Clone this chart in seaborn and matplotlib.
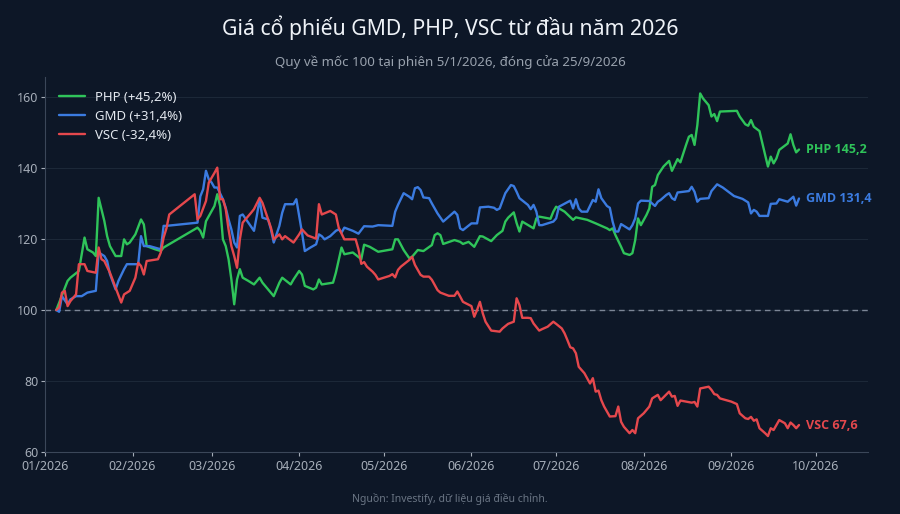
import numpy as np
import pandas as pd
import matplotlib
matplotlib.use("Agg")
import matplotlib.pyplot as plt
import matplotlib.dates as mdates
import seaborn as sns

# dd/mm (2026) va gia tri quy ve 100
php_dates = ["05/01", "09/01", "10/01", "13/01", "15/01", "16/01", "18/01", "19/01", "20/01", "22/01",
             "23/01", "24/01", "26/01", "28/01", "29/01", "30/01", "31/01", "02/02", "04/02", "05/02",
             "06/02", "09/02", "11/02", "12/02", "24/02", "25/02", "26/02", "27/02", "02/03", "03/03",
             "04/03", "05/03", "06/03", "07/03", "08/03", "09/03", "10/03", "11/03", "12/03", "14/03",
             "16/03", "18/03", "19/03", "23/03", "25/03", "26/03", "29/03", "30/03", "01/04", "02/04",
             "03/04", "06/04", "07/04", "08/04", "09/04", "13/04", "14/04", "16/04", "17/04", "20/04",
             "23/04", "24/04", "26/04", "29/04", "04/05", "05/05", "06/05", "08/05", "10/05", "11/05",
             "13/05", "15/05", "18/05", "19/05", "20/05", "21/05", "22/05", "26/05", "28/05", "29/05",
             "31/05", "02/06", "04/06", "05/06", "08/06", "10/06", "12/06", "13/06", "14/06", "16/06",
             "17/06", "18/06", "19/06", "22/06", "23/06", "24/06", "25/06", "29/06", "30/06", "01/07",
             "04/07", "07/07", "08/07", "12/07", "15/07", "19/07", "20/07", "21/07", "22/07", "24/07",
             "25/07", "27/07", "28/07", "29/07", "30/07", "31/07", "02/08", "03/08", "04/08", "05/08",
             "06/08", "07/08", "08/08", "10/08", "11/08", "13/08", "14/08", "15/08", "16/08", "17/08",
             "18/08", "19/08", "20/08", "21/08", "22/08", "24/08", "25/08", "26/08", "27/08", "28/08",
             "03/09", "04/09", "06/09", "07/09", "08/09", "09/09", "11/09", "12/09", "13/09", "14/09",
             "15/09", "16/09", "17/09", "18/09", "20/09", "21/09", "22/09", "23/09", "24/09", "25/09"]
php_vals = [100, 108.2, 109.1, 111, 120.4, 117.1, 116.2, 115.2, 131.6, 125.1,
            120.8, 118, 115.2, 115.2, 119.9, 118.5, 119, 121.3, 125.5, 124.1,
            118, 117.1, 116.6, 117.6, 123.2, 122.3, 120.4, 125, 129.3, 132.6,
            129.3, 119.9, 118, 114.3, 108.6, 101.6, 108.6, 111.5, 109.1, 108.2,
            107.2, 109.1, 107.7, 103.9, 107.7, 109.1, 107.2, 108.6, 111, 110,
            106.8, 105.8, 106.3, 108.6, 107.2, 107.7, 110.5, 117.6, 115.7, 116.2,
            114.3, 118.4, 117.8, 116.4, 117.1, 119.9, 119.9, 116.9, 114.6, 115,
            116.9, 116.6, 118.3, 121.1, 121.6, 121.1, 118.6, 119.7, 119.2, 118.6,
            119.2, 117.8, 120.8, 120.7, 119.4, 121.1, 122.3, 124.9, 126, 127.5,
            124.5, 122.1, 124.9, 123.5, 123, 125.8, 126.3, 125.7, 127.7, 129.1,
            127.7, 125.4, 126.1, 125.4, 124.4, 123, 122.5, 123, 121.1, 117.8,
            116, 115.5, 116, 119.7, 125.8, 123.9, 126.8, 128.6, 134.7, 135.2,
            138, 139.2, 140.4, 142, 139.2, 142.5, 141.6, 144.1, 146.5, 148.8,
            149.3, 146.5, 152.1, 161, 159.6, 157.7, 154.5, 155.2, 153.2, 155.9,
            156.1, 154.5, 152.3, 151.9, 153.5, 151.6, 150.4, 147, 143.7, 140.4,
            143.2, 141.3, 142.7, 145.1, 146.3, 146.9, 149.5, 146.5, 144.4, 145.2]

gmd_dates = ["05/01", "06/01", "07/01", "09/01", "10/01", "12/01", "14/01", "16/01", "19/01", "20/01",
             "22/01", "23/01", "24/01", "26/01", "27/01", "29/01", "30/01", "03/02", "04/02", "05/02",
             "07/02", "11/02", "12/02", "13/02", "24/02", "25/02", "26/02", "27/02", "28/02", "01/03",
             "02/03", "03/03", "05/03", "06/03", "07/03", "08/03", "09/03", "10/03", "11/03", "12/03",
             "14/03", "16/03", "17/03", "18/03", "19/03", "21/03", "22/03", "23/03", "25/03", "26/03",
             "27/03", "30/03", "31/03", "01/04", "02/04", "03/04", "05/04", "07/04", "08/04", "09/04",
             "10/04", "12/04", "14/04", "15/04", "16/04", "17/04", "20/04", "22/04", "24/04", "27/04",
             "29/04", "04/05", "05/05", "06/05", "08/05", "10/05", "11/05", "12/05", "13/05", "14/05",
             "15/05", "17/05", "18/05", "20/05", "22/05", "24/05", "26/05", "27/05", "28/05", "29/05",
             "01/06", "03/06", "04/06", "07/06", "09/06", "10/06", "11/06", "13/06", "15/06", "16/06",
             "17/06", "18/06", "21/06", "22/06", "23/06", "24/06", "25/06", "26/06", "30/06", "01/07",
             "02/07", "06/07", "07/07", "08/07", "09/07", "10/07", "12/07", "14/07", "15/07", "16/07",
             "17/07", "19/07", "20/07", "21/07", "22/07", "23/07", "24/07", "27/07", "28/07", "29/07",
             "30/07", "31/07", "03/08", "05/08", "06/08", "07/08", "09/08", "10/08", "11/08", "12/08",
             "13/08", "17/08", "18/08", "19/08", "20/08", "21/08", "24/08", "25/08", "27/08", "29/08",
             "02/09", "05/09", "07/09", "08/09", "09/09", "10/09", "11/09", "14/09", "15/09", "17/09",
             "18/09", "21/09", "23/09", "24/09", "25/09"]
gmd_vals = [100, 99.5, 103.9, 101.6, 103, 103.9, 103.9, 104.9, 105.4, 116.2,
            115.2, 113.8, 110.1, 105.8, 108.2, 111.5, 112.9, 112.9, 120.8, 118,
            118, 117.1, 123.7, 123.7, 124.6, 132, 134, 139.2, 136.8, 135.9,
            134.5, 134.5, 131.2, 128.8, 125.5, 122.7, 119, 117.6, 126.5, 126.9,
            124.6, 122.3, 126.5, 131.2, 126, 125.5, 122.7, 119, 123.7, 127.4,
            129.8, 129.8, 131.2, 126.5, 121.8, 116.6, 117.6, 118.5, 121.3, 120.8,
            119.9, 120.8, 122.3, 122.7, 121.8, 123.2, 122.3, 121.5, 123.6, 123.5,
            123.9, 123.7, 127.7, 129.6, 132.9, 131.9, 131.2, 134.3, 134.6, 133.8,
            131.7, 131.5, 130, 127.2, 124.9, 126.3, 127.7, 126.8, 123, 122.5,
            124.4, 124.4, 128.9, 129.1, 128.8, 128.2, 128.6, 132.9, 135.2, 134.9,
            133.3, 131.5, 129.6, 128.4, 129.6, 127.7, 123.9, 123.9, 124.9, 125.8,
            129.1, 130.8, 128.6, 131.2, 128.6, 127.7, 127.7, 131, 130.5, 134,
            131.5, 129.3, 128.8, 124.9, 122.1, 122.1, 124.2, 122.7, 123.9, 125.8,
            130, 130.8, 130.7, 129.3, 130.5, 131, 132.4, 132.9, 131.5, 131,
            133.1, 133.5, 134.7, 133.3, 130.5, 131.3, 131.5, 133.5, 135.4, 134.5,
            132.1, 131.3, 130.3, 127.2, 128.2, 127.7, 126.5, 126.5, 129.9, 130,
            131.2, 130.5, 131.9, 129.4, 131.4]

vsc_dates = ["05/01", "06/01", "07/01", "08/01", "09/01", "10/01", "12/01", "13/01", "15/01", "16/01",
             "19/01", "20/01", "21/01", "22/01", "24/01", "26/01", "28/01", "29/01", "31/01", "02/02",
             "03/02", "04/02", "05/02", "06/02", "10/02", "11/02", "12/02", "13/02", "14/02", "23/02",
             "24/02", "25/02", "27/02", "28/02", "02/03", "03/03", "04/03", "05/03", "06/03", "07/03",
             "08/03", "09/03", "10/03", "11/03", "12/03", "15/03", "16/03", "18/03", "19/03", "21/03",
             "22/03", "23/03", "25/03", "26/03", "27/03", "30/03", "01/04", "02/04", "04/04", "07/04",
             "08/04", "09/04", "12/04", "14/04", "15/04", "17/04", "21/04", "22/04", "23/04", "24/04",
             "25/04", "27/04", "28/04", "29/04", "03/05", "04/05", "05/05", "06/05", "07/05", "10/05",
             "11/05", "12/05", "14/05", "15/05", "17/05", "18/05", "20/05", "21/05", "24/05", "26/05",
             "27/05", "28/05", "29/05", "01/06", "02/06", "03/06", "04/06", "05/06", "06/06", "08/06",
             "11/06", "12/06", "14/06", "16/06", "17/06", "18/06", "19/06", "21/06", "22/06", "23/06",
             "25/06", "26/06", "28/06", "30/06", "01/07", "03/07", "04/07", "05/07", "06/07", "07/07",
             "08/07", "09/07", "11/07", "13/07", "14/07", "15/07", "16/07", "17/07", "18/07", "20/07",
             "22/07", "23/07", "24/07", "25/07", "27/07", "28/07", "29/07", "30/07", "01/08", "03/08",
             "04/08", "05/08", "06/08", "07/08", "10/08", "11/08", "12/08", "13/08", "14/08", "18/08",
             "19/08", "20/08", "21/08", "24/08", "25/08", "26/08", "27/08", "28/08", "01/09", "03/09",
             "04/09", "06/09", "07/09", "08/09", "09/09", "10/09", "11/09", "13/09", "14/09", "15/09",
             "16/09", "18/09", "20/09", "21/09", "22/09", "23/09", "24/09", "25/09"]
vsc_vals = [100, 100.7, 104.9, 105.4, 101.1, 102.5, 104.4, 112.9, 112.9, 111,
            110.5, 117.6, 114.3, 113.8, 110.5, 106.3, 102.1, 104.4, 105.4, 109.1,
            113.3, 112.4, 110, 113.8, 114.3, 116.2, 120.4, 123, 126.9, 132.6,
            125.5, 126.5, 130.7, 135.9, 138.6, 140.1, 131.2, 131.2, 128.4, 122.7,
            118, 115.2, 111.9, 119.9, 124.6, 127.4, 128.4, 131.6, 130.2, 125.5,
            123.2, 119.9, 121.3, 119.9, 120.8, 119, 121.3, 122.7, 121, 120.1,
            129.8, 126.9, 127.9, 126.9, 123.2, 119.9, 119.9, 117.1, 113, 113.5,
            112.2, 110.8, 109.9, 108.6, 109.6, 110.1, 109.2, 111.3, 112.2, 114.1,
            115, 112.7, 109.9, 109.4, 109.4, 108.5, 105.6, 104.9, 104, 104,
            105.2, 103.8, 102.3, 101.1, 98.1, 100, 102.3, 99.1, 96.7, 94.2,
            93.9, 94.8, 96.1, 96.7, 103.3, 101.4, 97.8, 97.8, 97.7, 96.2,
            94.2, 94.6, 95.3, 96.7, 96.1, 94.8, 93.4, 91.5, 89.5, 89.2,
            87.8, 84, 82.2, 79.3, 80.8, 77, 77.3, 74.6, 72.8, 70,
            70.1, 72.8, 68.5, 67.1, 65.3, 66.2, 65.3, 69.5, 70.9, 72.8,
            75.1, 75.6, 76.1, 74.6, 77, 75.6, 75.8, 73, 74.5, 73.9,
            74.1, 72.8, 77.9, 78.4, 77.5, 76.3, 76.1, 75.1, 74.2, 73.5,
            70.9, 69.5, 69.3, 69.9, 68.8, 69.2, 66.7, 65.3, 64.5, 66.7,
            66.2, 69, 68.1, 66.7, 68.3, 67.6, 66.7, 67.6]

tickers = ["PHP", "GMD", "VSC"]
legend_labels = ["PHP (+45,2%)", "GMD (+31,4%)", "VSC (-32,4%)"]
end_labels = ["PHP 145,2", "GMD 131,4", "VSC 67,6"]
colors = ["#2fc45a", "#3b7be0", "#e5484d"]

bg = "#0d1727"

frames = []
for lab, d, v in zip(legend_labels, [php_dates, gmd_dates, vsc_dates], [php_vals, gmd_vals, vsc_vals]):
    frames.append(pd.DataFrame({
        "date": pd.to_datetime([s + "/2026" for s in d], format="%d/%m/%Y"),
        "value": v,
        "series": lab,
    }))
df = pd.concat(frames, ignore_index=True)

sns.set_theme(style="dark")
plt.rcParams["font.family"] = ["Noto Sans", "DejaVu Sans"]

fig = plt.figure(figsize=(9, 5.14), dpi=100, facecolor=bg)
ax = fig.add_axes([0.05, 0.1206, 0.9144, 0.7294])
ax.set_facecolor(bg)

ax.axhline(100, color="#7c8696", lw=1, ls=(0, (4, 3)), zorder=1)

sns.lineplot(data=df, x="date", y="value", hue="series", hue_order=legend_labels,
             palette=colors, linewidth=1.7, ax=ax, zorder=3)

ax.set_xlim(pd.Timestamp("2026-01-01"), pd.Timestamp("2026-10-19 10:00"))
ax.set_ylim(60, 165.6)
ax.set_yticks([60, 80, 100, 120, 140, 160])
ax.xaxis.set_major_locator(mdates.MonthLocator())
ax.xaxis.set_major_formatter(mdates.DateFormatter("%m/%Y"))

ax.grid(axis="y", color="#1c2838", lw=0.8)
ax.grid(axis="x", visible=False)
for s in ["top", "right"]:
    ax.spines[s].set_visible(False)
for s in ["left", "bottom"]:
    ax.spines[s].set_visible(True)
    ax.spines[s].set_color("#3b4759")
    ax.spines[s].set_linewidth(0.8)
ax.tick_params(axis="both", colors="#a6aeb9", labelsize=9, length=3, width=0.8,
               direction="out", bottom=True, left=True)
ax.tick_params(axis="x", pad=2.5)
ax.tick_params(axis="y", pad=1.5)
ax.set_xlabel("")
ax.set_ylabel("")

for txt, col, d, v in zip(end_labels, colors, [php_dates, gmd_dates, vsc_dates],
                          [php_vals, gmd_vals, vsc_vals]):
    last = pd.to_datetime(d[-1] + "/2026", format="%d/%m/%Y")
    ax.annotate(txt, xy=(last, v[-1]), xytext=(5, 0), textcoords="offset points",
                color=col, fontsize=9, fontweight="bold", va="center", ha="left",
                family=["Open Sans", "Noto Sans", "DejaVu Sans"])

leg = ax.legend(loc="upper left", bbox_to_anchor=(0.002, 0.995), frameon=False,
                fontsize=9.5, handlelength=2.0, labelspacing=0.45, handletextpad=0.8)
for t in leg.get_texts():
    t.set_color("#e3e8ef")

fig.text(0.5, 0.947, "Giá cổ phiếu GMD, PHP, VSC từ đầu năm 2026", ha="center", va="center",
         fontsize=15.3, color="#eef2f7")
fig.text(0.5, 0.879, "Quy về mốc 100 tại phiên 5/1/2026, đóng cửa 25/9/2026", ha="center",
         va="center", fontsize=9.6, color="#98a1ad")
fig.text(0.5, 0.029, "Nguồn: Investify, dữ liệu giá điều chỉnh.", ha="center", va="center",
         fontsize=7.5, color="#6a7584")

fig.savefig("out.png", dpi=100, facecolor=bg)
